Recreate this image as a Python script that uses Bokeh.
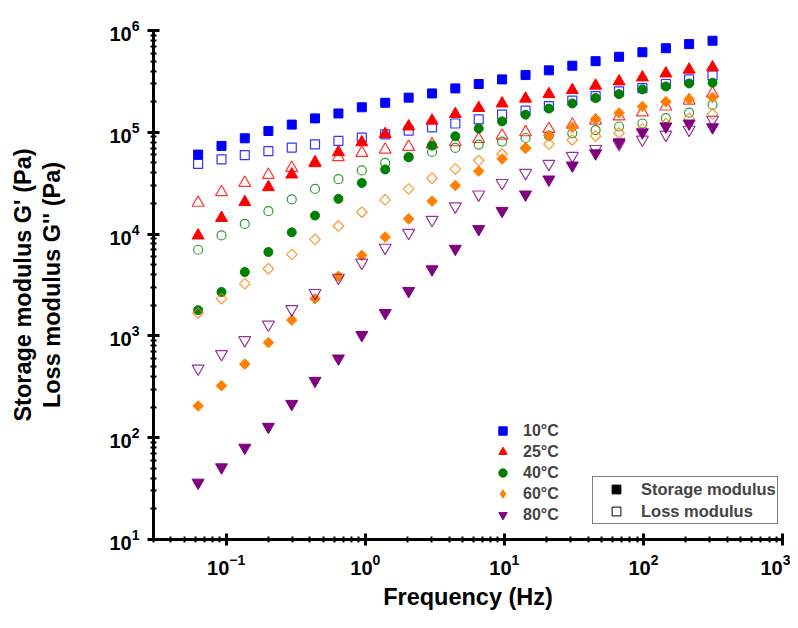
import numpy as np
from bokeh.plotting import figure
from bokeh.models import Range1d, Legend, LegendItem, ColumnDataSource
from bokeh.embed import file_html
from bokeh.resources import INLINE

freq = [0.0628, 0.0925, 0.136, 0.201, 0.296, 0.435, 0.641, 0.944, 1.39, 2.05,
        3.02, 4.44, 6.54, 9.63, 14.2, 20.9, 30.8, 45.3, 66.8, 98.3, 145, 213, 314]

g1_10 = [6.04e4, 7.35e4, 8.73e4, 1.03e5, 1.19e5, 1.37e5, 1.53e5, 1.76e5, 1.95e5, 2.19e5,
         2.41e5, 2.70e5, 2.98e5, 3.31e5, 3.65e5, 4.06e5, 4.51e5, 5.0e5, 5.52e5, 6.12e5,
         6.70e5, 7.35e5, 7.93e5]
g2_10 = [4.89e4, 5.43e4, 5.98e4, 6.52e4, 7.08e4, 7.62e4, 8.22e4, 8.87e4, 9.55e4, 1.04e5,
         1.12e5, 1.22e5, 1.34e5, 1.49e5, 1.63e5, 1.81e5, 2.05e5, 2.27e5, 2.52e5, 2.72e5,
         2.98e5, 3.31e5, 3.62e5]
g1_25 = [9.7e3, 1.44e4, 2.06e4, 2.89e4, 3.85e4, 4.97e4, 6.37e4, 7.98e4, 9.61e4, 1.14e5,
         1.30e5, 1.51e5, 1.73e5, 1.92e5, 2.14e5, 2.37e5, 2.60e5, 2.87e5, 3.16e5, 3.46e5,
         3.78e5, 4.12e5, 4.34e5]
g2_25 = [2.03e4, 2.58e4, 3.18e4, 3.81e4, 4.47e4, 5.08e4, 5.69e4, 6.27e4, 6.76e4, 7.18e4,
         7.62e4, 7.98e4, 8.59e4, 9.27e4, 1.0e5, 1.08e5, 1.19e5, 1.30e5, 1.43e5, 1.57e5,
         1.79e5, 2.05e5, 2.41e5]
g1_40 = [1.79e3, 2.70e3, 4.24e3, 6.67e3, 1.04e4, 1.52e4, 2.22e4, 3.18e4, 4.31e4, 5.69e4,
         7.41e4, 9.14e4, 1.09e5, 1.28e5, 1.49e5, 1.71e5, 1.92e5, 2.17e5, 2.37e5, 2.64e5,
         2.82e5, 3.02e5, 3.07e5]
g2_40 = [7.02e3, 9.7e3, 1.26e4, 1.68e4, 2.19e4, 2.78e4, 3.46e4, 4.22e4, 5.0e4, 5.69e4,
         6.41e4, 7.02e4, 7.57e4, 8.11e4, 8.79e4, 9.25e4, 9.77e4, 1.05e5, 1.14e5, 1.22e5,
         1.38e5, 1.56e5, 1.87e5]
g1_60 = [205, 324, 528, 859, 1.43e3, 2.32e3, 3.85e3, 6.18e3, 9.35e3, 1.41e4,
         2.11e4, 3.0e4, 4.15e4, 5.47e4, 7.02e4, 9.29e4, 1.12e5, 1.35e5, 1.55e5, 1.79e5,
         2.0e5, 2.12e5, 2.2e5]
g2_60 = [1.68e3, 2.32e3, 3.26e3, 4.57e3, 6.32e3, 8.89e3, 1.20e4, 1.64e4, 2.17e4, 2.78e4,
         3.54e4, 4.37e4, 5.28e4, 6.12e4, 6.97e4, 7.67e4, 8.41e4, 9.2e4, 9.84e4, 1.08e5,
         1.22e5, 1.37e5, 1.51e5]
g1_80 = [36.2, 51.2, 79.8, 128, 215, 362, 600, 1.02e3, 1.68e3, 2.76e3,
         4.51e3, 7.18e3, 1.12e4, 1.69e4, 2.45e4, 3.44e4, 4.72e4, 6.22e4, 7.98e4, 1.0e5,
         1.14e5, 1.22e5, 1.12e5]
g2_80 = [478, 662, 908, 1.29e3, 1.83e3, 2.64e3, 3.73e3, 5.24e3, 7.35e3, 1.03e4,
         1.38e4, 1.87e4, 2.45e4, 3.18e4, 3.99e4, 4.89e4, 5.86e4, 6.86e4, 7.67e4, 8.47e4,
         9.48e4, 1.06e5, 1.33e5]

temps = ["10°C", "25°C", "40°C", "60°C", "80°C"]
colors = ["#0000FF", "#FF0000", "#008000", "#FF8000", "#800080"]
markers = ["square", "triangle", "circle", "square", "inverted_triangle"]
legend_markers = ["square", "triangle", "circle", "diamond", "inverted_triangle"]
angles = [0, 0, 0, np.pi / 4, 0]
sizes = [9, 12, 9, 7.5, 12]
storage = [g1_10, g1_25, g1_40, g1_60, g1_80]
loss = [g2_10, g2_25, g2_40, g2_60, g2_80]

FONT = "Liberation Sans"

p = figure(width=790, height=612, x_axis_type="log", y_axis_type="log",
           x_range=Range1d(0.03, 1000), y_range=Range1d(10, 1e6),
           output_backend="svg", toolbar_location=None,
           min_border_left=153, min_border_right=8, min_border_top=30, min_border_bottom=70)
p.outline_line_color = None
p.xgrid.visible = False
p.ygrid.visible = False
p.background_fill_color = "white"
p.border_fill_color = "white"

for ax in (p.xaxis[0], p.yaxis[0]):
    ax.axis_line_width = 3
    ax.major_tick_line_width = 3
    ax.minor_tick_line_width = 2
    ax.major_tick_in = 6
    ax.major_tick_out = 6
    ax.minor_tick_in = 3
    ax.minor_tick_out = 3
    ax.major_label_text_font = FONT
    ax.major_label_text_font_style = "bold"
    ax.major_label_text_font_size = "20px"
    ax.major_label_text_color = "black"
    ax.major_label_standoff = 8
    ax.axis_label_text_font = FONT
    ax.axis_label_text_font_style = "bold"
    ax.axis_label_text_font_size = "23.5px"
    ax.axis_label_text_color = "black"

p.xaxis.axis_label = "Frequency (Hz)"
p.xaxis.axis_label_standoff = 6
p.yaxis.axis_label = "Storage modulus G' (Pa)\nLoss modulus G'' (Pa)"
p.yaxis.axis_label_standoff = 41
p.yaxis.axis_label_text_line_height = 1.15

filled_renderers = []
for t, c, m, a, s, g1, g2 in zip(temps, colors, markers, angles, sizes, storage, loss):
    src = ColumnDataSource(dict(x=freq, g1=g1, g2=g2))
    p.scatter("x", "g2", source=src, marker=m, size=s, angle=a,
              fill_color=None, line_color=c, line_width=1.2, line_alpha=0.8)
    r = p.scatter("x", "g1", source=src, marker=m, size=s, angle=a,
                  fill_color=c, line_color=c, line_width=1)
    filled_renderers.append(r)

# off-range placeholder sources used only for legend glyphs
dummy = ColumnDataSource(dict(x=[1e-6], y=[1e-6]))
legend_renderers = []
for c, lm, r in zip(colors, legend_markers, filled_renderers):
    if lm == "diamond":
        legend_renderers.append(p.scatter("x", "y", source=dummy, marker="diamond", size=12,
                                          fill_color=c, line_color=c))
    else:
        legend_renderers.append(r)

leg1 = Legend(items=[LegendItem(label=t, renderers=[r]) for t, r in zip(temps, legend_renderers)],
              location=(339, 14), orientation="vertical",
              glyph_width=21, glyph_height=21, label_height=21, spacing=0,
              padding=0, margin=0, label_standoff=10,
              label_text_font=FONT, label_text_font_style="bold", label_text_font_size="16px",
              border_line_color=None, background_fill_alpha=0)
p.add_layout(leg1)

rs = p.scatter("x", "y", source=dummy, marker="square", size=9, fill_color="black", line_color="black")
rl = p.scatter("x", "y", source=dummy, marker="square", size=9, fill_color=None, line_color="black", line_width=1)
leg2 = Legend(items=[LegendItem(label="Storage modulus", renderers=[rs]),
                     LegendItem(label="Loss modulus", renderers=[rl])],
              location=(439, 15), orientation="vertical",
              glyph_width=44, glyph_height=22, label_height=22, spacing=0,
              padding=1, margin=0, label_standoff=3,
              label_text_font=FONT, label_text_font_style="bold", label_text_font_size="16.5px",
              border_line_color="black", border_line_width=1, background_fill_alpha=0)
p.add_layout(leg2)

open("out.html", "w").write(file_html(p, INLINE))
